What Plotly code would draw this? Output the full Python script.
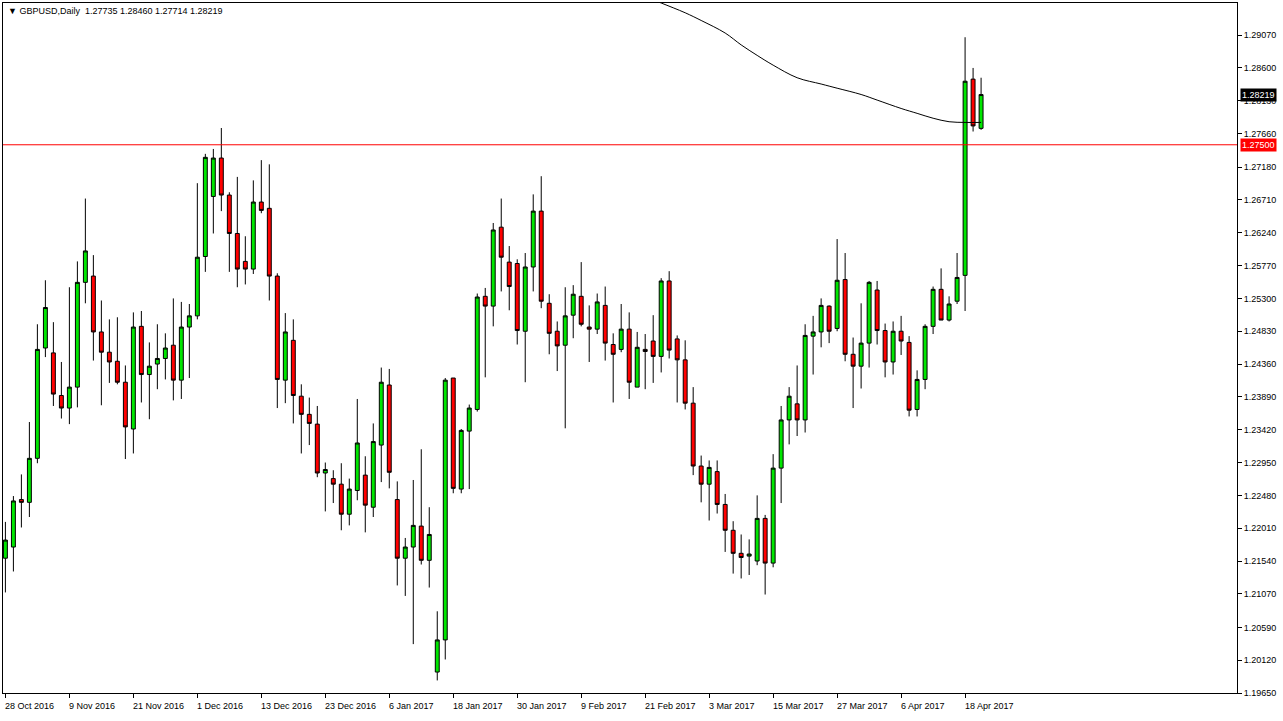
import plotly.graph_objects as go

opens = [1.2158,1.2174,1.2242,1.2238,1.2301,1.2459,1.2452,1.2391,1.2373,1.2403,
1.2553,1.2562,1.2482,1.2453,1.2440,1.2410,1.2343,1.2490,1.2421,1.2436,
1.2444,1.2463,1.2413,1.2489,1.2505,1.2590,1.2676,1.2731,1.2678,1.2623,
1.2583,1.2572,1.2668,1.2659,1.2562,1.2413,1.2470,1.2390,1.2364,1.2350,
1.2280,1.2272,1.2264,1.2221,1.2255,1.2277,1.2231,1.2320,1.2406,1.2242,
1.2158,1.2174,1.2204,1.2155,1.1995,1.2041,1.2416,1.2257,1.2340,1.2371,
1.2533,1.2519,1.2632,1.2582,1.2580,1.2483,1.2575,1.2655,1.2523,1.2483,
1.2463,1.2506,1.2533,1.2489,1.2486,1.2520,1.2464,1.2457,1.2486,1.2403,
1.2457,1.2469,1.2447,1.2555,1.2472,1.2442,1.2380,1.2290,1.2264,1.2282,
1.2235,1.2198,1.2165,1.2161,1.2154,1.2215,1.2151,1.2287,1.2356,1.2379,
1.2356,1.2476,1.2482,1.2519,1.2487,1.2557,1.2450,1.2433,1.2466,1.2542,
1.2484,1.2439,1.2483,1.2467,1.2371,1.2414,1.2490,1.2543,1.2499,1.2526,
1.2563,1.2844,1.27735]
highs = [1.2210,1.2247,1.2278,1.2353,1.2493,1.2556,1.2496,1.2439,1.2546,1.2583,
1.2673,1.2592,1.2527,1.2500,1.2503,1.2434,1.2510,1.2512,1.2467,1.2493,
1.2480,1.2530,1.2525,1.2522,1.2695,1.2737,1.2744,1.2774,1.2682,1.2704,
1.2619,1.2699,1.2728,1.2722,1.2566,1.2509,1.2500,1.2407,1.2388,1.2376,
1.2295,1.2284,1.2294,1.2272,1.2386,1.2304,1.2351,1.2431,1.2429,1.2268,
1.2187,1.2270,1.2314,1.2231,1.2082,1.2416,1.2416,1.2343,1.2378,1.2537,
1.2545,1.2638,1.2673,1.2605,1.2586,1.2595,1.2679,1.2705,1.2536,1.2497,
1.2546,1.2549,1.2582,1.2520,1.2537,1.2547,1.2480,1.2522,1.2510,1.2482,
1.2479,1.2506,1.2559,1.2569,1.2477,1.2470,1.2403,1.2305,1.2298,1.2298,
1.2250,1.2211,1.2192,1.2185,1.2248,1.2220,1.2307,1.2376,1.2403,1.2434,
1.2493,1.2505,1.2530,1.2520,1.2615,1.2595,1.2474,1.2523,1.2555,1.2555,
1.2494,1.2497,1.2505,1.2476,1.2427,1.2493,1.2547,1.2573,1.2533,1.2595,
1.2904,1.2860,1.28460]
lows = [1.2109,1.2139,1.2202,1.2217,1.2294,1.2446,1.2376,1.2358,1.2350,1.2374,
1.2523,1.2441,1.2377,1.2409,1.2407,1.2300,1.2308,1.2381,1.2357,1.2400,
1.2414,1.2384,1.2386,1.2416,1.2500,1.2568,1.2623,1.2655,1.2568,1.2546,
1.2550,1.2565,1.2652,1.2527,1.2373,1.2380,1.2351,1.2308,1.2320,1.2274,
1.2225,1.2237,1.2198,1.2205,1.2241,1.2195,1.2217,1.2267,1.2258,1.2119,
1.2104,1.2035,1.2149,1.2116,1.1983,1.2013,1.2251,1.2251,1.2257,1.2368,
1.2417,1.2490,1.2540,1.2513,1.2464,1.2410,1.2540,1.2516,1.2450,1.2426,
1.2344,1.2473,1.2490,1.2439,1.2479,1.2441,1.2381,1.2453,1.2386,1.2403,
1.2400,1.2409,1.2424,1.2444,1.2381,1.2371,1.2277,1.2238,1.2212,1.2222,
1.2167,1.2136,1.2129,1.2134,1.2148,1.2106,1.2145,1.2237,1.2321,1.2333,
1.2338,1.2421,1.2460,1.2466,1.2483,1.2440,1.2373,1.2401,1.2431,1.2464,
1.2417,1.2421,1.2449,1.2361,1.2361,1.2400,1.2479,1.2499,1.2497,1.2522,
1.2512,1.2769,1.27714]
closes = [1.2184,1.2240,1.2238,1.2301,1.2457,1.2517,1.2393,1.2373,1.2403,1.2553,
1.2598,1.2482,1.2453,1.2439,1.2410,1.2346,1.2489,1.2421,1.2433,1.2444,
1.2459,1.2413,1.2489,1.2505,1.2589,1.2732,1.2731,1.2678,1.2623,1.2572,
1.2572,1.2668,1.2656,1.2562,1.2414,1.2482,1.2391,1.2364,1.2351,1.2280,
1.2285,1.2264,1.2221,1.2257,1.2323,1.2234,1.2325,1.2410,1.2281,1.2158,
1.2174,1.2205,1.2155,1.2192,1.2041,1.2413,1.2258,1.2341,1.2373,1.2532,
1.2519,1.2628,1.2589,1.2547,1.2484,1.2575,1.2655,1.2526,1.2480,1.2462,
1.2505,1.2536,1.2493,1.2486,1.2525,1.2466,1.2450,1.2486,1.2410,1.2460,
1.2454,1.2447,1.2555,1.2456,1.2442,1.2380,1.2290,1.2264,1.2288,1.2235,
1.2198,1.2165,1.2159,1.2164,1.2215,1.2151,1.2287,1.2356,1.2390,1.2356,
1.2477,1.2482,1.2520,1.2483,1.2556,1.2450,1.2433,1.2466,1.2553,1.2484,
1.2439,1.2483,1.2469,1.2370,1.2414,1.2490,1.2543,1.2499,1.2522,1.2560,
1.2841,1.2777,1.28219]

ma_idx = [80, 82, 85, 87, 90, 92, 94, 96, 99, 102, 104, 107, 109, 112, 114, 116, 118, 120, 122]
ma_val = [1.2962, 1.2953, 1.2939, 1.2928, 1.2910, 1.2893, 1.2878, 1.2864, 1.2846, 1.2837,
          1.2831, 1.2822, 1.2814, 1.2802, 1.2795, 1.2788, 1.2783, 1.2782, 1.2782]

date_labels = ["28 Oct 2016","9 Nov 2016","21 Nov 2016","1 Dec 2016","13 Dec 2016",
"23 Dec 2016","6 Jan 2017","18 Jan 2017","30 Jan 2017","9 Feb 2017","21 Feb 2017",
"3 Mar 2017","15 Mar 2017","27 Mar 2017","6 Apr 2017","18 Apr 2017"]
date_idx = [8 * k for k in range(len(date_labels))]

price_ticks = [1.29070,1.28600,1.28130,1.27660,1.27180,1.26710,1.26240,1.25770,1.25300,
1.24830,1.24360,1.23890,1.23420,1.22950,1.22480,1.22010,1.21540,1.21070,1.20590,
1.20120,1.19650]
level = 1.27500
last_price = 1.28219
title_text = "GBPUSD,Daily  1.27735 1.28460 1.27714 1.28219"

x = list(range(len(opens)))
FONT = "Liberation Sans"

fig = go.Figure()
fig.add_trace(go.Candlestick(
    x=x, open=opens, high=highs, low=lows, close=closes,
    increasing=dict(fillcolor="#00e600", line=dict(color="black", width=1)),
    decreasing=dict(fillcolor="#ff0000", line=dict(color="black", width=1)),
    whiskerwidth=0, showlegend=False, hoverinfo="skip"))
fig.add_trace(go.Scatter(x=ma_idx, y=ma_val, mode="lines",
    line=dict(color="black", width=1, shape="spline"), showlegend=False, hoverinfo="skip"))

fig.add_shape(type="line", xref="paper", x0=0, x1=1, yref="y", y0=level, y1=level,
              line=dict(color="#ff0000", width=1))

ymin, ymax = 1.1965, 1.2953
fig.update_layout(
    width=1283, height=721, paper_bgcolor="white", plot_bgcolor="white",
    margin=dict(l=3, r=46, t=3, b=28),
    font=dict(family=FONT, size=9, color="black"),
    xaxis=dict(range=[-0.3, 154], showgrid=False, zeroline=False,
               rangeslider=dict(visible=False), tickvals=date_idx,
               ticktext=[""] * len(date_idx), ticks="outside", ticklen=4,
               tickcolor="black", showline=True, linecolor="black", mirror=True),
    yaxis=dict(range=[ymin, ymax], side="right", showgrid=False, zeroline=False,
               tickvals=price_ticks, ticktext=[f"{v:.5f}" for v in price_ticks],
               ticks="outside", ticklen=4, tickcolor="black",
               showline=True, linecolor="black", mirror=True,
               tickfont=dict(size=9, family=FONT)),
)
for i, lab in zip(date_idx, date_labels):
    fig.add_annotation(x=i, y=0, xref="x", yref="paper", yanchor="top", xanchor="left",
                       text=lab, showarrow=False, yshift=-6, xshift=-2,
                       font=dict(size=9, family=FONT))
fig.add_annotation(x=1, y=level, xref="paper", yref="y", xanchor="left", text="1.27500",
                   showarrow=False, bgcolor="red", font=dict(color="white", size=9),
                   xshift=3, borderpad=1)
fig.add_annotation(x=1, y=last_price, xref="paper", yref="y", xanchor="left",
                   text=f"{last_price:.5f}", showarrow=False, bgcolor="black",
                   font=dict(color="white", size=9), xshift=3, borderpad=1)
fig.add_annotation(x=0, y=1, xref="paper", yref="paper", xanchor="left", yanchor="top",
                   text="▼ " + title_text, showarrow=False, xshift=3, yshift=-1,
                   font=dict(size=9, family=FONT))

fig.write_html("out.html", config={"displayModeBar": False},
               post_script="document.body.style.margin='0';")
